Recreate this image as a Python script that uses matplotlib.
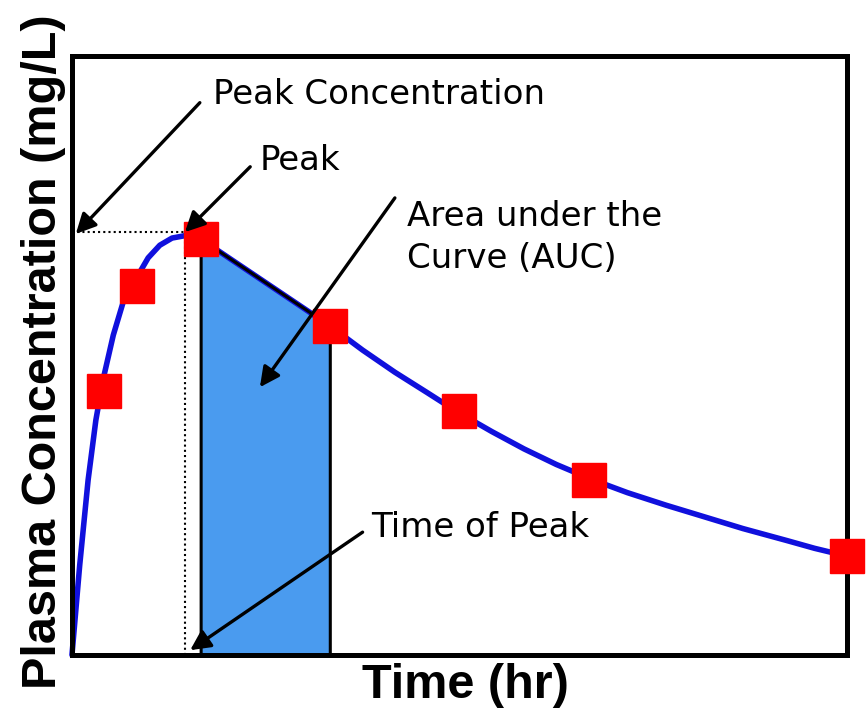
import matplotlib.pyplot as plt

# sampled concentrations (red squares)
t_obs = [0.5, 1.0, 2.0, 4.0, 6.0, 8.0, 12.0]
c_obs = [4.4, 6.16, 6.94, 5.49, 4.07, 2.92, 1.65]

# fitted curve
t_curve = [0.0, 0.12, 0.25, 0.37, 0.48, 0.64, 0.79, 0.98, 1.18, 1.36, 1.55, 1.75,
           2.0, 4.0, 4.5, 5.0, 5.5, 5.95, 6.5, 7.0, 7.5, 8.05, 8.6, 9.2, 9.72,
           10.39, 11.07, 11.5, 12.0]
c_curve = [0.0, 1.5, 2.92, 3.92, 4.59, 5.34, 5.88, 6.26, 6.63, 6.84, 6.96, 7.0,
           6.94, 5.49, 5.09, 4.72, 4.38, 4.07, 3.73, 3.44, 3.18, 2.93, 2.71, 2.5,
           2.33, 2.11, 1.91, 1.78, 1.65]

peak_t = 1.75
peak_c = 7.06
auc_t = [2.0, 4.0]

fig = plt.figure(figsize=(8.66, 7.11), dpi=100)
ax = fig.add_axes([0.0831, 0.0788, 0.8949, 0.8425])
ax.set_xlim(0, 12)
ax.set_ylim(0, 10)
ax.set_xticks([])
ax.set_yticks([])
for s in ax.spines.values():
    s.set_linewidth(3.6)
    s.set_color('black')

# area under the curve (trapezoid between the two samples)
i0, i1 = t_obs.index(auc_t[0]), t_obs.index(auc_t[1])
poly_t = [auc_t[0], auc_t[0], auc_t[1], auc_t[1]]
poly_c = [0, c_obs[i0], c_obs[i1], 0]
ax.fill(poly_t, poly_c, color='#4a9bef', zorder=1)

ax.plot(t_curve, c_curve, color='#1010dd', lw=4, zorder=2, clip_on=False,
        solid_capstyle='round', solid_joinstyle='round')
ax.plot(poly_t, poly_c, color='black', lw=2.2, zorder=3)

# dotted guides to the peak
ax.plot([0, peak_t], [peak_c, peak_c], color='black', lw=1.5, ls=(0, (1, 1.5)), zorder=2)
ax.plot([peak_t, peak_t], [0, peak_c], color='black', lw=1.5, ls=(0, (1, 1.5)), zorder=2)

ax.plot(t_obs, c_obs, 's', color='#ff0000', ms=24.5, zorder=4, clip_on=False)

arrow = dict(arrowstyle='-|>', color='black', lw=2.4, mutation_scale=30,
             shrinkA=0, shrinkB=0)
ax.annotate('', xy=(0.06, 7.03), xytext=(1.98, 9.22), arrowprops=arrow, zorder=5)
ax.annotate('', xy=(1.75, 7.06), xytext=(2.76, 8.15), arrowprops=arrow, zorder=5)
ax.annotate('', xy=(2.91, 4.47), xytext=(5.0, 7.63), arrowprops=arrow, zorder=5)
ax.annotate('', xy=(1.83, 0.08), xytext=(4.5, 2.05), arrowprops=arrow, zorder=5)

tkw = dict(fontsize=24.5, family='DejaVu Sans', va='center', ha='left')
ax.text(2.18, 9.35, 'Peak Concentration', **tkw)
ax.text(2.91, 8.26, 'Peak', **tkw)
ax.text(5.19, 7.32, 'Area under the', **tkw)
ax.text(5.19, 6.62, 'Curve (AUC)', **tkw)
ax.text(4.64, 2.12, 'Time of Peak', **tkw)

lkw = dict(fontsize=35, family='Liberation Sans', fontweight='bold')
fig.text(465 / 866, 1 - 686 / 711, 'Time (hr)', ha='center', va='center', **lkw)
fig.text(44 / 866, 1 - 352 / 711, 'Plasma Concentration (mg/L)', rotation=90,
         ha='center', va='center', **lkw)

fig.savefig('out.png', dpi=100, facecolor='white')
